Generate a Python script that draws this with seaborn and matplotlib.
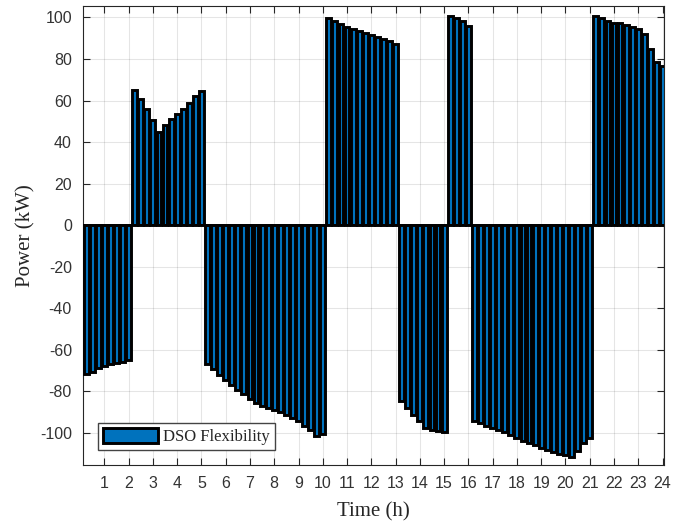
import numpy as np
import matplotlib
matplotlib.use("Agg")
import matplotlib.pyplot as plt
import seaborn as sns

# 15-minute steps over the day (h)
time_h = np.arange(1, 97) * 0.25

# DSO flexibility (kW), one list per run of same-sign bars
p_00_02 = [-71.5, -70.5, -69, -68, -67, -66.5, -66, -65]
p_02_05 = [65, 60.5, 56, 50.5, 45, 48, 51, 53.5, 56, 59, 62, 64.5]
p_05_10 = [-67, -69.5, -72, -74.5, -77, -79.5, -81.5, -83.5, -85.5, -87,
           -88, -89, -90, -91.5, -93, -94.5, -96.5, -98.5, -101.5, -100.5]
p_10_13 = [99.5, 98.5, 97, 95.5, 94.5, 93.5, 92.5, 91.5, 90.5, 89.5, 88.5, 87]
p_13_15 = [-84.5, -88, -91.5, -94.5, -97.5, -98.5, -99, -99.5]
p_15_16 = [100.5, 99.5, 98.5, 96]
p_16_21 = [-94.5, -95.5, -96.5, -97.5, -98.5, -99.5, -101, -102.5, -104, -105,
           -106, -107.5, -108.5, -109.3, -110, -110.5, -111.5, -109, -105, -102.5]
p_21_24 = [100.5, 99.5, 98.5, 97.5, 97.5, 96.5, 95.5, 94.5, 92, 85, 78.5, 76.5]

power_kw = p_00_02 + p_02_05 + p_05_10 + p_10_13 + p_13_15 + p_15_16 + p_16_21 + p_21_24

x_ticks = list(range(1, 25))
y_ticks = list(range(-100, 101, 20))

sns.set_theme(style="ticks")
plt.rcParams['font.family'] = ['Liberation Sans', 'DejaVu Sans']
plt.rcParams['axes.unicode_minus'] = False
serif = {'family': 'Liberation Serif'}

fig = plt.figure(figsize=(6.82, 5.22), dpi=100)
ax = fig.add_axes([0.1217, 0.1092, 0.8519, 0.8793])

sns.barplot(x=time_h, y=power_kw, native_scale=True, color='#0072BD',
            saturation=1, edgecolor='black', linewidth=2.1, width=0.8,
            errorbar=None, label='DSO Flexibility', ax=ax, zorder=3)
ax.axhline(0, color='black', lw=1.2, zorder=4)

ax.set_xlim(0.12, 24.06)
ax.set_ylim(-115.5, 105.5)
ax.set_xticks(x_ticks)
ax.set_yticks(y_ticks)
ax.grid(True, color='#000000', alpha=0.1, lw=0.8, zorder=0)
ax.set_axisbelow(True)
ax.tick_params(direction='in', length=5, width=0.8, colors='#262626',
               labelcolor='#333333', labelsize=11.5, top=True, right=True, pad=8)
for s in ax.spines.values():
    s.set_visible(True)
    s.set_color('#262626')
    s.set_linewidth(0.8)

ax.set_xlabel('Time (h)', fontdict=serif, fontsize=15, color='#262626', labelpad=8)
ax.set_ylabel('Power (kW)', fontdict=serif, fontsize=15, color='#262626', labelpad=3)

ax.legend(loc='lower left', prop={'family': 'Liberation Serif', 'size': 12},
          handlelength=3.3, handleheight=1.0, fancybox=False, framealpha=1,
          edgecolor='#444444', borderaxespad=0.9, borderpad=0.3,
          handletextpad=0.3)

fig.savefig('out.png', dpi=100)
plt.close(fig)
